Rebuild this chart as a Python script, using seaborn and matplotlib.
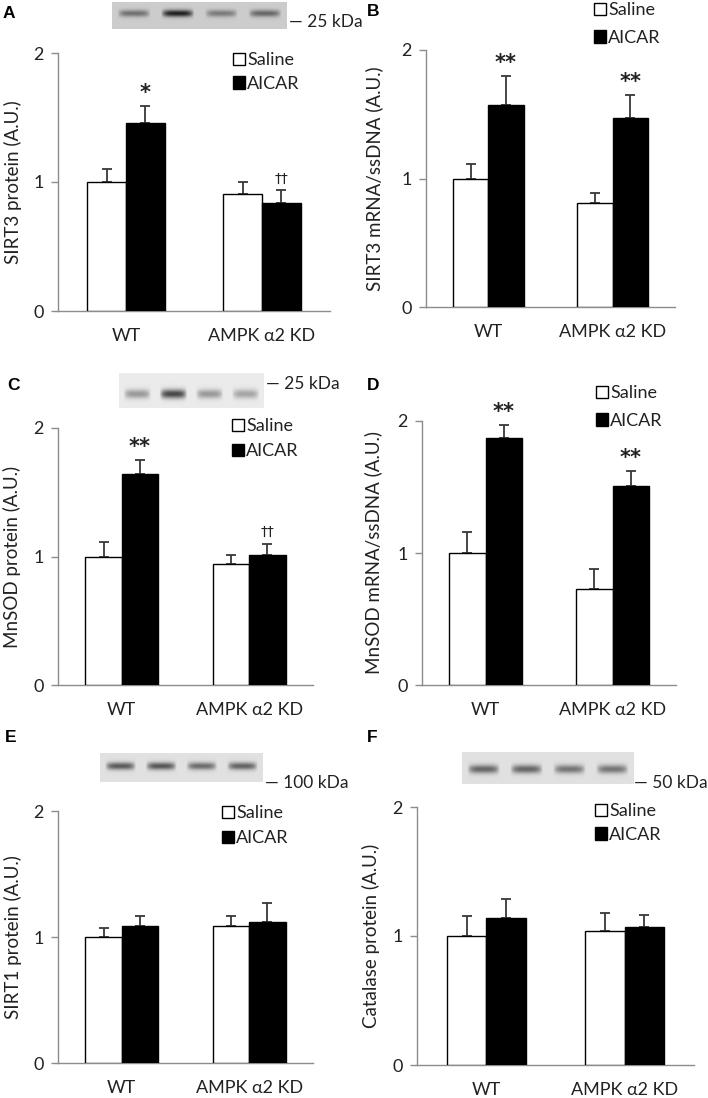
import numpy as np
import pandas as pd
import matplotlib
matplotlib.use('Agg')
import matplotlib.pyplot as plt
from matplotlib.container import BarContainer
import seaborn as sns

# groups and treatments
groups = ['WT', 'AMPK α2 KD']
treatments = ['Saline', 'AICAR']

# A: SIRT3 protein
saline_A = [1.00, 0.91]
aicar_A = [1.46, 0.84]
saline_err_A = [0.10, 0.09]
aicar_err_A = [0.13, 0.095]
marks_A = ['*', '††']

# B: SIRT3 mRNA/ssDNA
saline_B = [1.00, 0.81]
aicar_B = [1.57, 1.47]
saline_err_B = [0.11, 0.08]
aicar_err_B = [0.23, 0.18]
marks_B = ['**', '**']

# C: MnSOD protein
saline_C = [1.00, 0.94]
aicar_C = [1.64, 1.01]
saline_err_C = [0.11, 0.07]
aicar_err_C = [0.11, 0.09]
marks_C = ['**', '††']

# D: MnSOD mRNA/ssDNA
saline_D = [1.00, 0.73]
aicar_D = [1.87, 1.51]
saline_err_D = [0.16, 0.15]
aicar_err_D = [0.10, 0.11]
marks_D = ['**', '**']

# E: SIRT1 protein
saline_E = [1.00, 1.09]
aicar_E = [1.09, 1.12]
saline_err_E = [0.07, 0.08]
aicar_err_E = [0.08, 0.15]
marks_E = ['', '']

# F: Catalase protein
saline_F = [1.00, 1.04]
aicar_F = [1.14, 1.07]
saline_err_F = [0.155, 0.14]
aicar_err_F = [0.15, 0.095]
marks_F = ['', '']

ylabels = ['SIRT3 protein (A.U.)', 'SIRT3 mRNA/ssDNA (A.U.)', 'MnSOD protein (A.U.)',
           'MnSOD mRNA/ssDNA (A.U.)', 'SIRT1 protein (A.U.)', 'Catalase protein (A.U.)']

# blot lane darkness (decorative)
blot_A = [0.45, 0.85, 0.40, 0.50]
blot_C = [0.35, 0.70, 0.35, 0.30]
blot_E = [0.60, 0.62, 0.52, 0.56]
blot_F = [0.55, 0.55, 0.48, 0.48]

W, H = 708, 1098
TXT = '#222222'
GRAY = '#8c8c8c'

sns.set_theme(style='white')
plt.rcParams['font.family'] = ['Lato', 'DejaVu Sans']

fig = plt.figure(figsize=(W / 100, H / 100), dpi=100)


def px_axes(l, r, t, b):
    return fig.add_axes([l / W, 1 - b / H, (r - l) / W, (b - t) / H])


def draw_panel(box, sal, aic, sal_err, aic_err, marks, ylab, ylab_x, leg_xy, leg_sp,
               letter, letter_xy):
    ax = px_axes(*box)
    df = pd.DataFrame({'group': groups * 2,
                       'treatment': [treatments[0]] * 2 + [treatments[1]] * 2,
                       'value': sal + aic})
    sns.barplot(data=df, x='group', y='value', hue='treatment', order=groups,
                hue_order=treatments, palette={'Saline': 'white', 'AICAR': 'black'},
                edgecolor='black', linewidth=1.0, width=0.57, ax=ax, zorder=3)
    errs = [sal_err, aic_err]
    bars = [c for c in ax.containers if isinstance(c, BarContainer)]
    for k, cont in enumerate(bars):
        xs = [p.get_x() + p.get_width() / 2 for p in cont]
        tops = [p.get_height() for p in cont]
        ax.errorbar(xs, tops, yerr=[np.zeros(len(xs)), errs[k]], fmt='none',
                    ecolor='#383838', elinewidth=1.3, capsize=3.5, capthick=1.3, zorder=2)
        if k == 1:
            for x, t, e, m in zip(xs, tops, errs[k], marks):
                if m == '*' or m == '**':
                    ax.text(x, t + e + 0.1, m, ha='center', va='center', fontsize=15,
                            fontweight='bold', color=TXT, family='DejaVu Sans', clip_on=False)
                elif m:
                    ax.text(x, t + e + 0.09, m, ha='center', va='center', fontsize=10,
                            color=TXT, family='DejaVu Sans', clip_on=False)
    ax.set_xlim(-0.5, 1.5)
    ax.set_ylim(0, 2)
    ax.set_xlabel('')
    ax.set_ylabel('')
    ax.set_yticks([0, 1, 2])
    ax.set_yticklabels(['0', '1', '2'], fontsize=13, color=TXT)
    ax.set_xticks([-0.5, 0.5, 1.5])
    ax.set_xticklabels([])
    ax.set_xticks([0, 1], minor=True)
    ax.set_xticklabels(groups, minor=True, fontsize=13, color=TXT)
    ax.tick_params(axis='x', which='minor', length=0, pad=12.5)
    ax.tick_params(axis='x', which='major', length=5, width=1, color=GRAY, direction='out')
    ax.tick_params(axis='y', length=5, width=1, color=GRAY, direction='out', pad=5.5, left=True)
    sns.despine(ax=ax)
    for s in ['left', 'bottom']:
        ax.spines[s].set_color(GRAY)
        ax.spines[s].set_linewidth(1.0)
    ax.grid(False)
    handles, labels = ax.get_legend_handles_labels()
    ax.legend(handles, labels, loc='upper left', bbox_to_anchor=(leg_xy[0] / W, 1 - leg_xy[1] / H),
              bbox_transform=fig.transFigure, frameon=False, fontsize=13, borderpad=0,
              borderaxespad=0, handlelength=0.67, handleheight=0.67, handletextpad=0.12,
              labelspacing=leg_sp, labelcolor=TXT)
    fig.text(ylab_x / W, 1 - ((box[2] + box[3]) / 2) / H, ylab, rotation=90, ha='center',
             va='center', fontsize=13.5, color=TXT)
    fig.text(letter_xy[0] / W, 1 - letter_xy[1] / H, letter, ha='left', va='center',
             fontsize=12.5, fontweight='bold', family='Liberation Sans', color='black')
    return ax


def draw_blot(box, lanes, band_y, bg, label, label_xy):
    l, r, t, b = box
    ax = px_axes(l, r, t, b)
    nx, ny = (r - l) * 2, (b - t) * 2
    xx = np.linspace(0, len(lanes), nx)
    yy = np.linspace(0, 1, ny)
    img = np.full((ny, nx), bg)
    for i, d in enumerate(lanes):
        cx = i + 0.5
        prof_x = np.clip(1 - ((xx - cx) / 0.38) ** 4, 0, None)
        prof_y = np.exp(-((yy - band_y) / 0.13) ** 2)
        img -= d * np.outer(prof_y, prof_x) * bg
    ax.imshow(img, cmap='gray', vmin=0, vmax=1, aspect='auto', interpolation='bilinear')
    ax.set_axis_off()
    fig.text(label_xy[0] / W, 1 - label_xy[1] / H, '— ' + label, ha='left', va='center',
             fontsize=12.5, color=TXT)


draw_blot((112, 287, 2, 29), blot_A, 0.42, 0.80, '25 kDa', (289, 22))
draw_blot((119, 264, 373, 408), blot_C, 0.6, 0.92, '25 kDa', (266, 384))
draw_blot((100, 263, 753, 782), blot_E, 0.45, 0.88, '100 kDa', (265, 783))
draw_blot((462, 634, 752, 784), blot_F, 0.55, 0.88, '50 kDa', (634, 783))

draw_panel((58, 330, 53, 311), saline_A, aicar_A, saline_err_A, aicar_err_A, marks_A,
           ylabels[0], 13, (233, 52), 0.44, 'A', (3, 13))
draw_panel((426, 675, 50, 307), saline_B, aicar_B, saline_err_B, aicar_err_B, marks_B,
           ylabels[1], 374, (594, 2), 0.66, 'B', (367, 12))
draw_panel((58, 313, 428, 685), saline_C, aicar_C, saline_err_C, aicar_err_C, marks_C,
           ylabels[2], 12, (232, 418), 0.5, 'C', (7, 385))
draw_panel((422, 676, 421, 685), saline_D, aicar_D, saline_err_D, aicar_err_D, marks_D,
           ylabels[3], 373, (596, 385), 0.66, 'D', (367, 385))
draw_panel((58, 313, 811, 1063), saline_E, aicar_E, saline_err_E, aicar_err_E, marks_E,
           ylabels[4], 13, (222, 805), 0.5, 'E', (5, 738))
draw_panel((417, 694, 807, 1065), saline_F, aicar_F, saline_err_F, aicar_err_F, marks_F,
           ylabels[5], 371, (595, 803), 0.44, 'F', (367, 738))

fig.savefig('out.png', dpi=100)
